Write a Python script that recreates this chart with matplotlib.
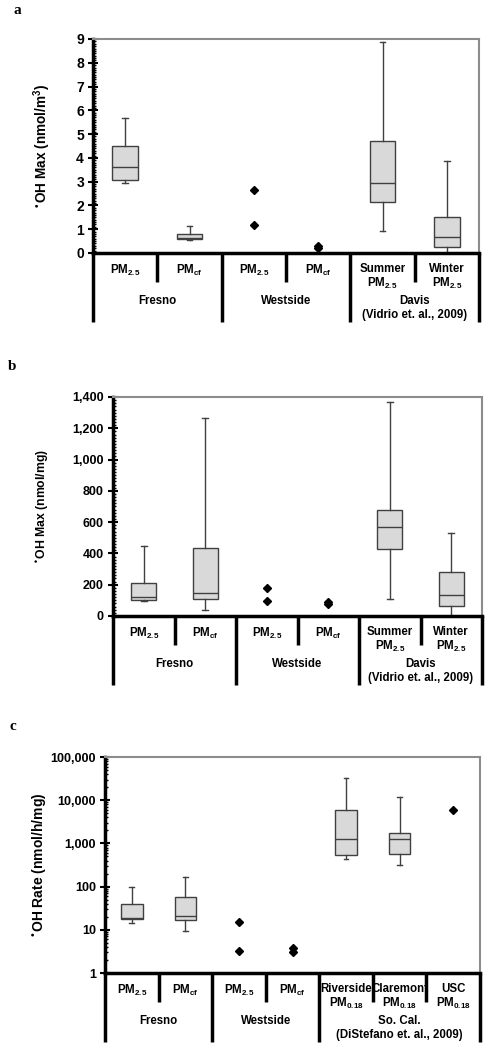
#!/usr/bin/env python3

import matplotlib
matplotlib.use('Agg')
import matplotlib.pyplot as plt
from matplotlib.ticker import MultipleLocator, FuncFormatter, LogLocator, NullFormatter
from matplotlib.transforms import blended_transform_factory

plt.rcParams['font.family'] = ['Liberation Sans', 'DejaVu Sans']
plt.rcParams['font.weight'] = 'bold'
plt.rcParams['mathtext.default'] = 'regular'

# Panel a: OH max per volume (nmol/m3)
a_labels = ['PM$_{2.5}$', 'PM$_{cf}$', 'PM$_{2.5}$', 'PM$_{cf}$', 'Summer\nPM$_{2.5}$', 'Winter\nPM$_{2.5}$']
a_groups = ['Fresno', 'Westside', 'Davis\n(Vidrio et. al., 2009)']
a_group_sizes = [2, 2, 2]
a_box_pos = [1, 2, 5, 6]
a_whislo = [2.96, 0.56, 0.94, 0.0]
a_q1 = [3.07, 0.59, 2.16, 0.27]
a_med = [3.60, 0.62, 2.96, 0.67]
a_q3 = [4.49, 0.79, 4.71, 1.51]
a_whishi = [5.68, 1.12, 8.88, 3.88]
a_pt_pos = [3, 3, 4, 4]
a_pt_val = [2.66, 1.19, 0.28, 0.21]

# Panel b: OH max per mass (nmol/mg)
b_labels = a_labels
b_groups = a_groups
b_group_sizes = [2, 2, 2]
b_box_pos = [1, 2, 5, 6]
b_whislo = [96, 38, 106, 0]
b_q1 = [100, 111, 426, 64]
b_med = [119, 145, 566, 132]
b_q3 = [209, 434, 679, 279]
b_whishi = [447, 1266, 1368, 532]
b_pt_pos = [3, 3, 4, 4]
b_pt_val = [181, 94, 91, 74]

# Panel c: OH rate (nmol/h/mg)
c_labels = ['PM$_{2.5}$', 'PM$_{cf}$', 'PM$_{2.5}$', 'PM$_{cf}$',
            'Riverside\nPM$_{0.18}$', 'Claremont\nPM$_{0.18}$', 'USC\nPM$_{0.18}$']
c_groups = ['Fresno', 'Westside', 'So. Cal.\n(DiStefano et. al., 2009)']
c_group_sizes = [2, 2, 3]
c_box_pos = [1, 2, 5, 6]
c_whislo = [14, 9.2, 427, 316]
c_q1 = [17.6, 17, 548, 567]
c_med = [18.3, 21, 1237, 1237]
c_q3 = [39, 58.8, 6090, 1763]
c_whishi = [100, 167, 32700, 11900]
c_pt_pos = [3, 3, 4, 4, 7]
c_pt_val = [15, 3.3, 3.8, 3.0, 6090]

W, H = 490, 1050
fig = plt.figure(figsize=(W / 100, H / 100), dpi=100)
comma_fmt = FuncFormatter(lambda v, p: '{:,.0f}'.format(v))


def draw_panel(box_px, labels, groups, group_sizes, box_pos, whislo, q1, med, q3, whishi,
               pt_pos, pt_val, ylabel, label_x_px, tick_size, label_size,
               letter, letter_xy, setup):
    left, top, right, bottom = box_px
    axh = bottom - top
    ax = fig.add_axes([left / W, (H - bottom) / H, (right - left) / W, axh / H])
    setup(ax)
    n = len(labels)

    stats = [dict(whislo=lo, q1=a, med=m, q3=b, whishi=hi)
             for lo, a, m, b, hi in zip(whislo, q1, med, q3, whishi)]
    ax.bxp(stats, positions=box_pos, widths=0.4, capwidths=0.09, showfliers=False,
           patch_artist=True,
           boxprops=dict(facecolor='#d9d9d9', edgecolor='#404040', linewidth=1.0),
           medianprops=dict(color='#404040', linewidth=1.0),
           whiskerprops=dict(color='#404040', linewidth=1.0),
           capprops=dict(color='#404040', linewidth=1.0))
    ax.plot(pt_pos, pt_val, 'D', color='black', markersize=4.5, linestyle='none', clip_on=False)
    ax.set_xlim(0.5, n + 0.5)
    ax.set_xticks([])

    for side in ['top', 'right']:
        ax.spines[side].set_color('#8c8c8c')
        ax.spines[side].set_linewidth(1.5)
    for side in ['left', 'bottom']:
        ax.spines[side].set_color('black')
        ax.spines[side].set_linewidth(2.5)
    ax.tick_params(axis='y', which='major', direction='inout', length=7, width=1.5,
                   labelsize=tick_size, pad=3)
    ax.tick_params(axis='y', which='minor', direction='in', length=2.5, width=1.0)
    ax.set_ylabel(ylabel, fontsize=label_size, fontweight='bold')
    ax.yaxis.set_label_coords((label_x_px + 6 - left) / (right - left), 0.5)

    # category table below the axis
    tr = blended_transform_factory(ax.transData, ax.transAxes)
    for i, lab in enumerate(labels):
        ax.text(i + 1, -10 / axh, lab, transform=tr, ha='center', va='top',
                fontsize=8.3, fontweight='bold', linespacing=1.1)
    start = 0
    for g, s in zip(groups, group_sizes):
        ax.text(start + s / 2 + 0.5, -42 / axh, g, transform=tr, ha='center', va='top',
                fontsize=8.3, fontweight='bold', linespacing=1.2)
        for k in range(1, s):
            x = start + k + 0.5
            ax.plot([x, x], [0, -29 / axh], transform=tr, color='black', lw=2.5,
                    clip_on=False, solid_capstyle='butt')
        ax.plot([start + 0.5] * 2, [0, -69 / axh], transform=tr, color='black', lw=2.5,
                clip_on=False, solid_capstyle='butt')
        start += s
    ax.plot([start + 0.5] * 2, [0, -69 / axh], transform=tr, color='black', lw=2.5,
            clip_on=False, solid_capstyle='butt')

    fig.text(letter_xy[0] / W, 1 - letter_xy[1] / H, letter, fontsize=11, fontweight='bold',
             family='Liberation Serif', va='baseline')
    return ax


def setup_a(ax):
    ax.set_ylim(0, 9)
    ax.yaxis.set_major_locator(MultipleLocator(1))
    ax.yaxis.set_minor_locator(MultipleLocator(0.1))


def setup_b(ax):
    ax.set_ylim(0, 1400)
    ax.yaxis.set_major_locator(MultipleLocator(200))
    ax.yaxis.set_minor_locator(MultipleLocator(20))
    ax.yaxis.set_major_formatter(comma_fmt)


def setup_c(ax):
    ax.set_yscale('log')
    ax.set_ylim(1, 100000)
    ax.yaxis.set_major_locator(LogLocator(base=10))
    ax.yaxis.set_minor_locator(LogLocator(base=10, subs=range(2, 10)))
    ax.yaxis.set_major_formatter(comma_fmt)
    ax.yaxis.set_minor_formatter(NullFormatter())


draw_panel((93, 39, 479, 253), a_labels, a_groups, a_group_sizes, a_box_pos,
           a_whislo, a_q1, a_med, a_q3, a_whishi, a_pt_pos, a_pt_val,
           '$^{•}$OH Max (nmol/m$^3$)', 47, 10, 9.8, 'a', (13, 14), setup_a)
draw_panel((113, 397, 482, 616), b_labels, b_groups, b_group_sizes, b_box_pos,
           b_whislo, b_q1, b_med, b_q3, b_whishi, b_pt_pos, b_pt_val,
           '$^{•}$OH Max (nmol/mg)', 45, 9, 8.8, 'b', (8, 370), setup_b)
draw_panel((105, 757, 480, 973), c_labels, c_groups, c_group_sizes, c_box_pos,
           c_whislo, c_q1, c_med, c_q3, c_whishi, c_pt_pos, c_pt_val,
           '$^{•}$OH Rate (nmol/h/mg)', 43, 9, 10, 'c', (10, 730), setup_c)

fig.savefig('out.png', dpi=100)
